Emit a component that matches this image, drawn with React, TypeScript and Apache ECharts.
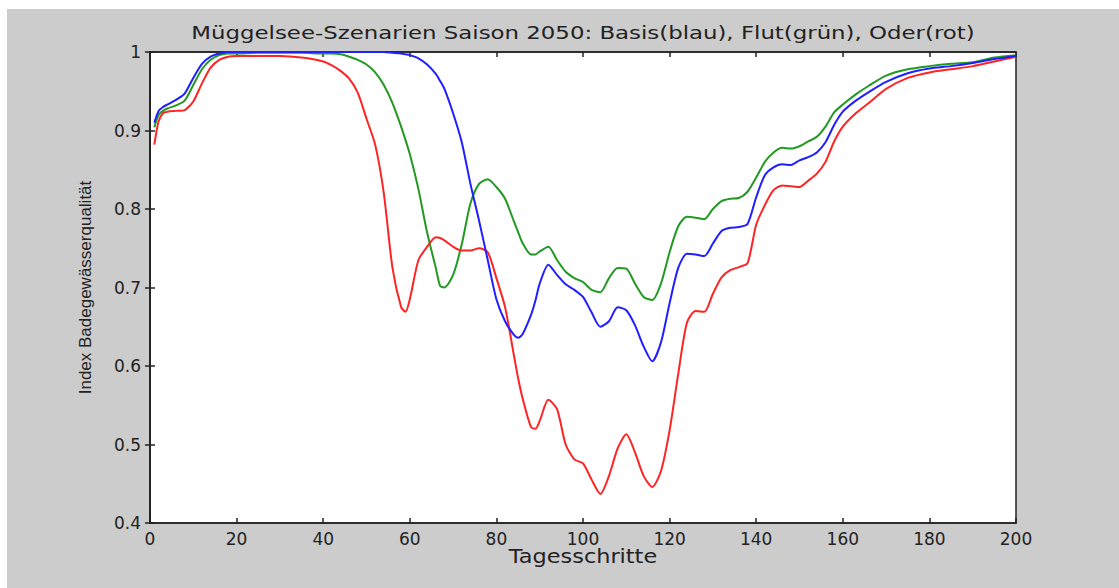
import React, { useEffect, useRef } from "react";
import * as echarts from "echarts";

const titleText = "Müggelsee-Szenarien Saison 2050: Basis(blau), Flut(grün), Oder(rot)";
const xName = "Tagesschritte";
const yName = "Index Badegewässerqualität";

const days = [
  1, 2, 3, 4, 6, 8, 10, 12, 14, 16, 18, 20, 25, 30, 35, 40, 42, 44, 46, 48, 50, 52, 54, 56, 58, 59,
  60, 62, 64, 66, 67, 68, 70, 72, 74, 76, 78, 80, 82, 84, 85, 86, 88, 89, 90, 92, 94, 96, 98, 100,
  102, 104, 106, 108, 110, 112, 114, 116, 118, 120, 122, 124, 126, 128, 130, 132, 134, 136, 138,
  140, 142, 144, 146, 148, 150, 152, 154, 156, 158, 160, 163, 166, 170, 175, 180, 185, 190, 195, 200,
];

const basis = [
  0.91, 0.925, 0.93, 0.933, 0.939, 0.947, 0.967, 0.985, 0.994, 0.998, 1.0, 1.0, 1.0, 1.0, 1.0, 1.0, 1.0, 1.0, 1.0, 1.0, 1.0, 1.0, 1.0, 0.999, 0.998, 0.997,
  0.996, 0.992, 0.984, 0.972, 0.963, 0.953, 0.922, 0.885, 0.832, 0.785, 0.735, 0.685, 0.657, 0.64, 0.636, 0.64, 0.665, 0.683, 0.705, 0.729, 0.716, 0.704, 0.697, 0.688,
  0.668, 0.65, 0.657, 0.675, 0.671, 0.652, 0.625, 0.606, 0.63, 0.68, 0.725, 0.743, 0.742, 0.74, 0.756, 0.772, 0.776, 0.777, 0.781,
  0.815, 0.843, 0.853, 0.857, 0.856, 0.862, 0.866, 0.872, 0.885, 0.907, 0.924, 0.938, 0.949, 0.962, 0.973, 0.979, 0.982, 0.986, 0.991, 0.995,
];

const flut = [
  0.904, 0.92, 0.925, 0.928, 0.932, 0.938, 0.958, 0.978, 0.99, 0.996, 0.998, 0.998, 0.999, 0.999, 0.999, 0.998, 0.998, 0.997, 0.994, 0.99, 0.984, 0.974, 0.958, 0.935, 0.905, 0.888,
  0.87, 0.825, 0.77, 0.725, 0.702, 0.7, 0.716, 0.755, 0.807, 0.832, 0.838, 0.828, 0.813, 0.785, 0.771, 0.757, 0.742, 0.742, 0.746, 0.752, 0.735, 0.72, 0.712, 0.707,
  0.697, 0.694, 0.712, 0.725, 0.724, 0.705, 0.688, 0.684, 0.705, 0.745, 0.778, 0.79, 0.789, 0.787, 0.8, 0.81, 0.813, 0.814, 0.822,
  0.84, 0.86, 0.872, 0.878, 0.877, 0.88, 0.886, 0.892, 0.905, 0.923, 0.933, 0.946, 0.957, 0.97, 0.978, 0.982, 0.985, 0.987, 0.993, 0.996,
];

const oder = [
  0.882, 0.912, 0.922, 0.924, 0.925, 0.926, 0.937, 0.96, 0.98, 0.99, 0.994, 0.995, 0.995, 0.995, 0.993, 0.988, 0.983, 0.976, 0.966, 0.948, 0.915, 0.882, 0.82, 0.725, 0.675, 0.669,
  0.685, 0.735, 0.752, 0.764, 0.763, 0.76, 0.752, 0.747, 0.747, 0.75, 0.745, 0.712, 0.675, 0.615, 0.585, 0.56, 0.522, 0.52, 0.53, 0.557, 0.545, 0.5, 0.481, 0.476,
  0.455, 0.437, 0.46, 0.495, 0.513, 0.49, 0.46, 0.446, 0.466, 0.518, 0.59, 0.655, 0.67, 0.669, 0.692, 0.713, 0.722, 0.726, 0.731,
  0.78, 0.805, 0.824, 0.83, 0.829, 0.828, 0.836, 0.845, 0.86, 0.886, 0.905, 0.922, 0.935, 0.953, 0.967, 0.974, 0.978, 0.982, 0.988, 0.994,
];

const seriesNames = ["Basis", "Flut", "Oder"];
const seriesColors = ["#1f1fff", "#229922", "#ff2424"];

const fmtY = (v: number) => String(Number(v.toFixed(1)));

export default function App() {
  const ref = useRef<HTMLDivElement>(null);
  useEffect(() => {
    if (!ref.current) return;
    const chart = echarts.init(ref.current, undefined, { renderer: "svg" });
    const tickStyle = { show: true, inside: true, length: 5, lineStyle: { color: "#222", width: 1.5 } };
    const lineStyle = { show: true, lineStyle: { color: "#222", width: 1.5 } };
    const labelFont = { fontFamily: "DejaVu Sans", fontSize: 17, color: "#222" };
    const toData = (vals: number[]) => days.map((d, i) => [d, vals[i]]);
    const order = [1, 2, 0];
    chart.setOption({
      animation: false,
      backgroundColor: "#cccccc",
      graphic: [
        {
          type: "text",
          x: 576,
          y: 24,
          scaleX: 1.27,
          style: {
            text: titleText,
            fontFamily: "DejaVu Sans",
            fontSize: 18,
            fill: "#222",
            textAlign: "center",
            textVerticalAlign: "middle",
          },
        },
        {
          type: "text",
          x: 576,
          y: 548,
          scaleX: 1.18,
          style: {
            text: xName,
            fontFamily: "DejaVu Sans",
            fontSize: 19,
            fill: "#222",
            textAlign: "center",
            textVerticalAlign: "middle",
          },
        },
      ],
      grid: {
        left: 143,
        right: 103,
        top: 43,
        bottom: 65,
        show: true,
        backgroundColor: "#ffffff",
        borderColor: "#222",
        borderWidth: 1.5,
      },
      xAxis: [
        {
          type: "value",
          min: 0,
          max: 200,
          interval: 20,
          position: "bottom",
          axisLine: lineStyle,
          axisTick: tickStyle,
          axisLabel: { ...labelFont, margin: 7 },
          splitLine: { show: false },
        },
        {
          type: "value",
          min: 0,
          max: 200,
          interval: 20,
          position: "top",
          axisLine: lineStyle,
          axisTick: tickStyle,
          axisLabel: { show: false },
          splitLine: { show: false },
        },
      ],
      yAxis: [
        {
          type: "value",
          min: 0.4,
          max: 1,
          interval: 0.1,
          position: "left",
          name: yName,
          nameLocation: "middle",
          nameGap: 56,
          nameTextStyle: { fontFamily: "Liberation Sans Narrow, Liberation Sans", fontSize: 17, color: "#222" },
          axisLine: lineStyle,
          axisTick: tickStyle,
          axisLabel: { ...labelFont, margin: 9, formatter: fmtY },
          splitLine: { show: false },
        },
        {
          type: "value",
          min: 0.4,
          max: 1,
          interval: 0.1,
          position: "right",
          axisLine: lineStyle,
          axisTick: tickStyle,
          axisLabel: { show: false },
          splitLine: { show: false },
        },
      ],
      series: order.map((k) => ({
        name: seriesNames[k],
        type: "line",
        data: toData([basis, flut, oder][k]),
        showSymbol: false,
        smooth: 0.25,
        lineStyle: { color: seriesColors[k], width: 2 },
        itemStyle: { color: seriesColors[k] },
      })),
    });
    return () => chart.dispose();
  }, []);
  return (
    <div
      ref={ref}
      style={{ position: "absolute", left: 7, top: 9, width: 1112, height: 579 }}
    />
  );
}
